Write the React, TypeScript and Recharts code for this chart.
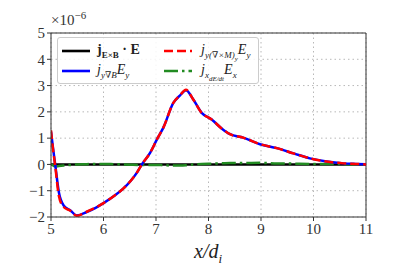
import { LineChart, Line, XAxis, YAxis, CartesianGrid, ReferenceLine } from "recharts";

// x positions (in d_i) where the curves were sampled
const xs = [5.0, 5.04, 5.08, 5.15, 5.24, 5.37, 5.49, 5.68, 5.85, 6.0, 6.2, 6.37, 6.52, 6.64, 6.73, 6.89, 7.02, 7.14, 7.33, 7.46, 7.57, 7.71, 7.87, 8.06, 8.25, 8.41, 8.66, 8.98, 9.3, 9.62, 9.93, 10.25, 10.57, 10.8, 11.0];
// j_{y gradB} E_y  (blue, x1e-6)
const gradB = [1.25, 0.6, 0.0, -1.06, -1.56, -1.75, -1.94, -1.81, -1.65, -1.47, -1.2, -0.93, -0.62, -0.3, 0.0, 0.45, 0.96, 1.4, 2.34, 2.63, 2.82, 2.47, 1.96, 1.71, 1.37, 1.15, 1.02, 0.77, 0.62, 0.42, 0.23, 0.11, 0.04, 0.02, 0.01];
// j_{y (curl M)_y} E_y  (red dashed)
const curlM = [1.3, 0.55, -0.05, -1.2, -1.62, -1.76, -1.95, -1.8, -1.64, -1.47, -1.2, -0.93, -0.62, -0.3, 0.0, 0.45, 0.96, 1.4, 2.34, 2.64, 2.84, 2.47, 1.96, 1.71, 1.37, 1.15, 1.02, 0.77, 0.62, 0.42, 0.23, 0.11, 0.04, 0.02, 0.0];
// j_{x dE/dt} E_x  (green dash-dot)
const dEdt = [0.0, -0.04, -0.08, -0.06, -0.04, -0.02, 0.0, 0.01, 0.02, 0.02, 0.01, 0.0, -0.01, -0.02, -0.02, -0.02, -0.02, -0.03, -0.04, -0.04, -0.03, 0.0, 0.02, 0.03, 0.04, 0.05, 0.05, 0.06, 0.04, 0.03, 0.02, 0.02, 0.01, 0.0, 0.0];
// j_{ExB} . E  (black)
const exb = xs.map(() => 0);

const xTicks = [5, 6, 7, 8, 9, 10, 11];
const yTicks = [-2, -1, 0, 1, 2, 3, 4, 5];

const data = xs.map((x, i) => ({ x, gradB: gradB[i], curlM: curlM[i], dEdt: dEdt[i], exb: exb[i] }));

const serif = "'Liberation Serif', 'DejaVu Serif', serif";
const tickStyle = { fill: "#333", fontSize: 15, fontFamily: serif };

// little line sample for the legend
const Swatch = ({ color, dash }: { color: string; dash?: string }) => (
  <svg width={28} height={10} style={{ verticalAlign: "middle" }}>
    <line x1={0} y1={5} x2={28} y2={5} stroke={color} strokeWidth={2.6} strokeDasharray={dash} />
  </svg>
);

export default function App() {
  return (
    <div style={{ position: "absolute", left: 0, top: 0, width: 407, height: 271, background: "#fff", fontFamily: serif }}>
      <LineChart width={407} height={271} data={data} margin={{ top: 33, right: 41, left: 21, bottom: 24 }}>
        <CartesianGrid stroke="#b8b8b8" strokeDasharray="1.5 3" />
        <XAxis
          dataKey="x"
          type="number"
          domain={[5, 11]}
          ticks={xTicks}
          tick={tickStyle}
          stroke="#333"
          tickSize={4}
          height={30}
          allowDataOverflow
        />
        <YAxis
          type="number"
          domain={[-2, 5]}
          ticks={yTicks}
          tick={tickStyle}
          stroke="#333"
          tickSize={4}
          width={30}
          allowDataOverflow
          tickFormatter={(v) => (v < 0 ? `\u2212${Math.abs(v)}` : `${v}`)}
        />
        <ReferenceLine y={5} stroke="#333" />
        <ReferenceLine x={11} stroke="#333" />
        <Line dataKey="exb" stroke="#000" strokeWidth={2.5} dot={false} isAnimationActive={false} />
        <Line dataKey="dEdt" stroke="#228b22" strokeWidth={2.5} strokeDasharray="14 4 2.5 4" dot={false} isAnimationActive={false} type="monotone" />
        <Line dataKey="gradB" stroke="#0000ff" strokeWidth={2.5} dot={false} isAnimationActive={false} type="monotone" />
        <Line dataKey="curlM" stroke="#ff0000" strokeWidth={2.5} strokeDasharray="9 4" dot={false} isAnimationActive={false} type="monotone" />
      </LineChart>

      {/* offset text */}
      <div style={{ position: "absolute", left: 51, top: 9, fontSize: 15, color: "#333" }}>
        ×10<sup style={{ fontSize: 11 }}>−6</sup>
      </div>

      {/* x label */}
      <div style={{ position: "absolute", left: 194, top: 240, fontSize: 20, fontStyle: "italic", color: "#222" }}>
        x/d<sub style={{ fontSize: 13 }}>i</sub>
      </div>

      {/* legend */}
      <div
        style={{
          position: "absolute",
          left: 57,
          top: 37,
          width: 200,
          height: 45,
          border: "1px solid #ccc",
          borderRadius: 3,
          background: "rgba(255,255,255,0.85)",
          fontSize: 14,
          color: "#222",
        }}
      >
        <div style={{ position: "absolute", left: 4, top: 4, whiteSpace: "nowrap" }}>
          <Swatch color="#000" />
          <span style={{ marginLeft: 7, fontWeight: "bold" }}>
            j<sub style={{ fontSize: 9 }}>E×B</sub> · E
          </span>
        </div>
        <div style={{ position: "absolute", left: 4, top: 24, whiteSpace: "nowrap" }}>
          <Swatch color="#0000ff" />
          <span style={{ marginLeft: 7, fontStyle: "italic" }}>
            j<sub style={{ fontSize: 9 }}>y∇B</sub>E<sub style={{ fontSize: 9 }}>y</sub>
          </span>
        </div>
        <div style={{ position: "absolute", left: 106, top: 4, whiteSpace: "nowrap" }}>
          <Swatch color="#ff0000" dash="9 4" />
          <span style={{ marginLeft: 9, fontStyle: "italic" }}>
            j<sub style={{ fontSize: 9 }}>y(∇×M)<sub style={{ fontSize: 7 }}>y</sub></sub>E<sub style={{ fontSize: 9 }}>y</sub>
          </span>
        </div>
        <div style={{ position: "absolute", left: 106, top: 24, whiteSpace: "nowrap" }}>
          <Swatch color="#228b22" dash="14 4 2.5 4" />
          <span style={{ marginLeft: 9, fontStyle: "italic" }}>
            j<sub style={{ fontSize: 9 }}>x<sub style={{ fontSize: 7 }}>dE/dt</sub></sub>E<sub style={{ fontSize: 9 }}>x</sub>
          </span>
        </div>
      </div>
    </div>
  );
}
